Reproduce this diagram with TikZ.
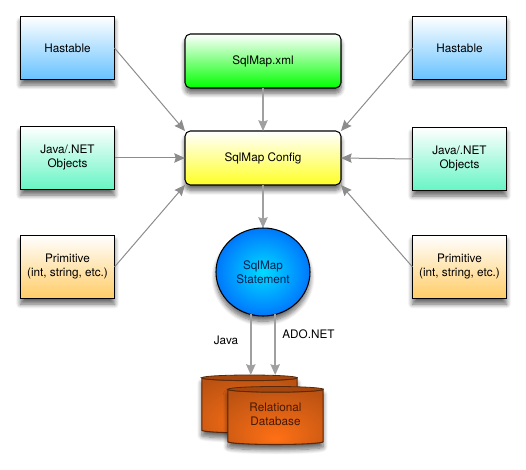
\documentclass[tikz,border=0pt]{standalone}
\usepackage{fontspec}
\setmainfont{TeX Gyre Heros}
\usetikzlibrary{arrows.meta,calc,shadows.blur,shapes.geometric}

\definecolor{hashblue}{RGB}{102,194,255}
\definecolor{javateal}{RGB}{102,245,196}
\definecolor{primorange}{RGB}{255,204,102}
\definecolor{conngray}{RGB}{140,140,140}
\definecolor{thickgray}{RGB}{160,160,160}
\definecolor{dbglow}{RGB}{255,112,20}
\definecolor{dbmid}{RGB}{215,95,20}
\definecolor{dbdark}{RGB}{165,72,15}
\definecolor{dbedge}{RGB}{90,40,10}
\definecolor{dbtext}{RGB}{70,25,5}
\definecolor{stmtglow}{RGB}{0,220,255}
\definecolor{stmtmid}{RGB}{0,140,255}
\definecolor{stmtdark}{RGB}{0,50,225}
\definecolor{stmttext}{RGB}{0,30,80}

\pgfdeclareradialshading{dbshade}{\pgfpoint{0bp}{-20bp}}{color(0bp)=(dbglow); color(22bp)=(dbmid); color(50bp)=(dbdark); color(70bp)=(dbdark)}
\pgfdeclareradialshading{stmtshade}{\pgfpoint{0bp}{0bp}}{color(0bp)=(stmtglow); color(20bp)=(stmtmid); color(42bp)=(stmtdark); color(70bp)=(stmtdark)}

\tikzset{every picture/.style={line width=0.75pt}}
\tikzset{
	lbl/.style={font=\fontsize{8.8}{10.5}\selectfont,align=center,inner sep=0pt},
	softshadow/.style={blur shadow={shadow xshift=0pt,shadow yshift=-4pt,shadow blur radius=3.5pt,shadow blur steps=8,shadow opacity=60}},
	sidebox/.style={draw=black,rectangle,line width=0.8pt,outer sep=0pt,minimum width=70.5pt,minimum height=47.6pt,softshadow,lbl},
	midbox/.style={draw=black,rectangle,rounded corners=4pt,line width=0.8pt,outer sep=0pt,minimum width=117pt,minimum height=40.5pt,softshadow,lbl},
	hashbox/.style={sidebox,top color=white,bottom color=hashblue},
	javabox/.style={sidebox,top color=white,bottom color=javateal},
	primbox/.style={sidebox,top color=white,bottom color=primorange},
	dbcan/.style={rectangle,outer sep=0pt,inner sep=0pt,minimum width=71.5pt,minimum height=43.5pt},
	dbbody/.style={draw=dbedge,line width=0.8pt,softshadow,shade,shading=dbshade},
	dbrim/.style={draw=dbedge,line width=0.6pt,fill=dbdark},
	conn/.style={draw=conngray,line width=0.75pt,-{Stealth[length=8pt,width=7pt,inset=1pt]}},
	connthick/.style={conn,draw=thickgray,line width=1.2pt},
}

% one tin of the database
\newcommand{\dbtin}[3]{
	\node [dbcan] (#1) at (#2,#3) {};
	\draw [dbbody] ($(#1.north west)+(0,2.8)$) -- ($(#1.south west)+(0,-2.8)$) arc [start angle=180,end angle=0,x radius=47.67,y radius=2.8] -- ($(#1.north east)+(0,2.8)$) arc [start angle=0,end angle=180,x radius=47.67,y radius=2.8] -- cycle;
	\draw [dbrim] ($(#1.north)+(0,2.8)$) ellipse (47.67 and 2.8);
}

\begin{document}
\begin{tikzpicture}[x=0.75pt,y=0.75pt,yscale=-1,xscale=1]
	\useasboundingbox (0,0) rectangle (526,470);

	% left column
	\node [hashbox] (hashL) at (67.5,48) {Hastable};
	\node [javabox] (javaL) at (67.5,158) {Java/.NET\\Objects};
	\node [primbox] (primL) at (67.5,267) {Primitive\\(int, string, etc.)};
	% right column
	\node [hashbox] (hashR) at (459.5,48) {Hastable};
	\node [javabox] (javaR) at (459.5,159) {Java/.NET\\Objects};
	\node [primbox] (primR) at (459.5,267) {Primitive\\(int, string, etc.)};
	% middle
	\node [midbox,top color=white,bottom color=green] (xml) at (263,61) {SqlMap.xml};
	\node [midbox,top color=white,bottom color=yellow!85!white] (config) at (263,158) {SqlMap Config};
	\node [draw=black,ellipse,line width=0.8pt,outer sep=0pt,minimum width=70.5pt,minimum height=66pt,softshadow,shade,shading=stmtshade,lbl,text=stmttext] (stmt) at (263,272) {SqlMap\\Statement};
	% database
	\dbtin{dbback}{249.5}{404}
	\dbtin{dbfront}{275.5}{415.5}
	\node [lbl,text=dbtext] (dblabel) at (275.5,414.5) {Relational\\Database};

	% connectors
	\draw [conn] (hashL.east) -- (config.north west);
	\draw [conn] (javaL.east) -- (config.west);
	\draw [conn] (primL.east) -- (config.south west);
	\draw [conn] (hashR.west) -- (config.north east);
	\draw [conn] (javaR.west) -- (config.east);
	\draw [conn] (primR.west) -- (config.south east);
	\draw [connthick] (xml.south) -- (config.north);
	\draw [connthick] (config.south) -- (stmt.north);
	\draw [connthick] (stmt.254) -- (stmt.254 |- dbback.north);
	\draw [connthick] (stmt.286) -- (stmt.286 |- dbback.north);

	% Text Node
	\node [lbl] (java) at (226,340) {Java};
	% Text Node
	\node [lbl] (ado) at (308.5,334) {ADO.NET};

\end{tikzpicture}
\end{document}
